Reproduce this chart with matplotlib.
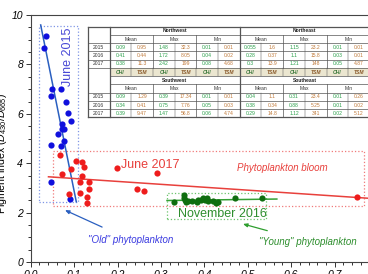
import matplotlib

matplotlib.use("Agg")
import matplotlib.pyplot as plt  # noqa: E402
from matplotlib.patches import Rectangle  # noqa: E402
from matplotlib.ticker import MultipleLocator  # noqa: E402

plt.rcParams["font.family"] = ["Liberation Sans", "DejaVu Sans"]
plt.rcParams["mathtext.fontset"] = "custom"
plt.rcParams["mathtext.it"] = "Liberation Sans:italic"
plt.rcParams["mathtext.rm"] = "Liberation Sans"

# June 2015 ("old" phytoplankton)
blue_x = [0.035, 0.030, 0.048, 0.069, 0.046, 0.081, 0.087, 0.093, 0.073, 0.071,
          0.077, 0.064, 0.076, 0.047, 0.069, 0.047, 0.091]
blue_y = [9.17, 8.68, 7.00, 7.00, 6.72, 6.47, 6.05, 5.71, 5.57, 5.37,
          5.37, 5.17, 4.91, 4.74, 4.68, 3.25, 2.55]
# June 2017 (bloom)
red_x = [0.067, 0.104, 0.119, 0.122, 0.199, 0.292, 0.072, 0.093, 0.119, 0.114,
         0.135, 0.246, 0.262, 0.135, 0.088, 0.114, 0.130, 0.130, 0.751]
red_y = [4.33, 4.10, 4.04, 3.86, 3.79, 3.62, 3.55, 3.75, 3.47, 3.23,
         3.24, 2.95, 2.87, 2.94, 2.76, 2.78, 2.63, 2.40, 2.64]
# November 2016 ("young" phytoplankton)
green_x = [0.331, 0.352, 0.354, 0.356, 0.358, 0.363, 0.371, 0.383, 0.386, 0.392,
           0.396, 0.402, 0.407, 0.409, 0.421, 0.426, 0.431, 0.471, 0.532]
green_y = [2.42, 2.60, 2.71, 2.51, 2.42, 2.48, 2.48, 2.44, 2.51, 2.51,
           2.60, 2.51, 2.60, 2.47, 2.47, 2.38, 2.42, 2.60, 2.58]

# linear fits: (slope, intercept, x range)
blue_fit = (-87.3, 11.61, (0.023, 0.105))
red_fit = (-1.18, 3.50, (0.041, 0.80))
green_fit = (0.237, 2.416, (0.314, 0.567))

# table
regions_top = ["Northwest", "Northeast"]
regions_bot = ["Southwest", "Southeast"]
stats = ["Mean", "Max", "Min"]
years = ["2015", "2016", "2017"]
top_vals = [
    ["0.09", "0.95", "1.48", "32.3", "0.01", "0.01", "0.055", "1.6", "1.15", "23.2", "0.01", "0.01"],
    ["0.41", "0.44", "1.72", "8.05", "0.04", "0.02", "0.28", "0.37", "1.1", "15.8", "0.03", "0.01"],
    ["0.38", "11.3", "2.42", "199", "0.08", "4.68", "0.3", "13.9", "1.21", "148", "0.05", "4.87"],
]
bot_vals = [
    ["0.09", "1.29", "0.39", "17.34", "0.01", "0.01", "0.04", "1.1", "0.31", "23.4", "0.01", "0.26"],
    ["0.34", "0.41", "0.75", "7.76", "0.05", "0.03", "0.38", "0.34", "0.88", "5.25", "0.01", "0.02"],
    ["0.39", "9.47", "1.47", "56.8", "0.06", "4.74", "0.29", "14.8", "1.12", "341", "0.02", "5.12"],
]
params = ["CHl", "TSM"]

C_BLUE, C_RED, C_GREEN = "#1010dd", "#ee1c1c", "#0f6e0f"
C_CHL, C_TSM = "#2aa04a", "#c07a3a"

fig = plt.figure(figsize=(3.68, 2.74), dpi=100)
ax = fig.add_axes([0.0834, 0.0438, 0.9166, 0.901])

ax.add_patch(Rectangle((0.019, 2.42), 0.089, 7.13, fill=False, ec="#7f95e6", ls=":", lw=0.9))
ax.add_patch(Rectangle((0.052, 2.28), 0.716, 2.20, fill=False, ec="#f07a7a", ls=":", lw=0.9))
ax.add_patch(Rectangle((0.315, 1.73), 0.228, 1.05, fill=False, ec="#6cc46c", ls=":", lw=0.9))

for (k, b, (x0, x1)), col in [(blue_fit, "#2a5fc0"), (red_fit, "#e8403c"), (green_fit, "#34a034")]:
    ax.plot([x0, x1], [k * x0 + b, k * x1 + b], color=col, lw=1.1, zorder=2)

ax.scatter(blue_x, blue_y, s=20, color=C_BLUE, zorder=3, lw=0)
ax.scatter(red_x, red_y, s=20, color=C_RED, zorder=3, lw=0)
ax.scatter(green_x, green_y, s=20, color=C_GREEN, zorder=3, lw=0)

ax.text(0.087, 8.3, "June 2015", rotation=90, color="#4848d6", fontsize=9, ha="center", va="center")
ax.text(0.275, 3.93, "June 2017", color="#e8403c", fontsize=9, ha="center", va="center")
ax.text(0.58, 3.8, "Phytoplankton bloom", color="#e8403c", fontsize=7, style="italic",
        ha="center", va="center")
ax.text(0.442, 1.94, "November 2016", color="#2e8e2e", fontsize=9, ha="center", va="center")
ax.annotate('"Old" phytoplankton', xy=(0.079, 2.1), xytext=(0.23, 0.89), color="#3a3ae0",
            fontsize=7, style="italic", ha="center", va="center",
            arrowprops=dict(arrowstyle="-|>,head_width=0.15,head_length=0.35", color="#2a5fc0",
                            lw=0.9, shrinkA=9, shrinkB=0))
ax.annotate('"Young" phytoplankton', xy=(0.489, 1.54), xytext=(0.638, 0.82), color="#2e8e2e",
            fontsize=7, style="italic", ha="center", va="center",
            arrowprops=dict(arrowstyle="-|>,head_width=0.15,head_length=0.35", color="#2e9e2e",
                            lw=0.9, shrinkA=9, shrinkB=0))

ax.set_xlim(0, 0.777)
ax.set_ylim(0, 10)
ax.xaxis.set_major_locator(MultipleLocator(0.1))
ax.xaxis.set_minor_locator(MultipleLocator(0.02))
ax.yaxis.set_major_locator(MultipleLocator(2))
ax.yaxis.set_minor_locator(MultipleLocator(0.5))
ax.tick_params(which="both", direction="out", labelsize=7.5, color="#333333", width=0.7, pad=2)
ax.tick_params(which="major", length=3.5)
ax.tick_params(which="minor", length=2)
for lab in ax.get_xticklabels() + ax.get_yticklabels():
    lab.set_style("italic")
ax.xaxis.set_major_formatter(plt.FuncFormatter(lambda v, p: f"{v:.1f}"))
ax.spines["right"].set_visible(False)
for s in ["left", "bottom", "top"]:
    ax.spines[s].set_linewidth(0.8)
    ax.spines[s].set_color("#444444")
ax.set_ylabel("Pigment index ($D_{430}$/$D_{665}$)", fontsize=7.6)
ax.yaxis.set_label_coords(-0.064, 0.44)

# table drawn in pixel coordinates on an overlay axes
tab = fig.add_axes([0, 0, 1, 1], zorder=5)
tab.set_xlim(0, 368)
tab.set_ylim(274, 0)
tab.axis("off")
x0, lab_w, cw = 87.5, 22.0, 21.7
y0, rh = 26.7, 8.25
n_rows = 11
xr = x0 + lab_w + 12 * cw
yb = y0 + n_rows * rh
fs = 3.6
lc = "#555555"

tab.add_patch(Rectangle((x0, y0), xr - x0, yb - y0, fc="white", ec="none"))
tab.add_patch(Rectangle((x0 + lab_w, y0 + 5 * rh), 12 * cw, rh, fc="#ebe6d0", ec="none"))


def hline(y, xa, xb, lw=0.5):
    tab.plot([xa, xb], [y, y], color=lc, lw=lw)


def vline(x, ya, yb_, lw=0.5):
    tab.plot([x, x], [ya, yb_], color=lc, lw=lw)


# outer frame
hline(y0, x0, xr, 0.9)
hline(yb, x0, xr, 0.9)
vline(x0, y0, yb, 0.9)
vline(x0 + lab_w, y0, yb, 0.9)
vline(x0 + lab_w + 6 * cw, y0, yb, 0.9)
for r in range(1, n_rows):
    first = r in (2, 3, 4, 5, 8, 9, 10)
    hline(y0 + r * rh, x0 if first else x0 + lab_w, xr, 0.5)
for blk in (0, 6):
    top = y0 + (blk + 1) * rh
    bot = y0 + (blk + 5) * rh if blk == 0 else yb
    for j in range(1, 12):
        if j == 6:
            continue
        xx = x0 + lab_w + j * cw
        vline(xx, top if j % 2 == 0 else top + rh, bot, 0.5 if j % 2 == 0 else 0.35)
for j in range(1, 12):
    if j != 6:
        vline(x0 + lab_w + j * cw, y0 + 5 * rh, y0 + 6 * rh, 0.35)


def cx(j):
    return x0 + lab_w + (j + 0.5) * cw


for blk, names, vals in [(0, regions_top, top_vals), (6, regions_bot, bot_vals)]:
    yc = y0 + (blk + 0.5) * rh
    for g, name in enumerate(names):
        tab.text(x0 + lab_w + (g * 6 + 3) * cw, yc, name, fontsize=fs, fontweight="bold",
                 ha="center", va="center", color="#222222")
    yc = y0 + (blk + 1.5) * rh
    for g in range(2):
        for k, st in enumerate(stats):
            tab.text(x0 + lab_w + (g * 6 + k * 2 + 1) * cw, yc, st, fontsize=fs,
                     ha="center", va="center", color="#333333")
    for i, yr in enumerate(years):
        yc = y0 + (blk + 2.5 + i) * rh
        tab.text(x0 + lab_w / 2, yc, yr, fontsize=fs, ha="center", va="center", color="#333333")
        for j, v in enumerate(vals[i]):
            tab.text(cx(j), yc, v, fontsize=fs, ha="center", va="center",
                     color=C_CHL if j % 2 == 0 else C_TSM)

for j in range(12):
    tab.text(cx(j), y0 + 5.5 * rh, params[j % 2], fontsize=fs, style="italic", fontweight="bold",
             ha="center", va="center", color="#3d7a3d" if j % 2 == 0 else "#8a5a2a")

fig.savefig("out.png", dpi=100)
